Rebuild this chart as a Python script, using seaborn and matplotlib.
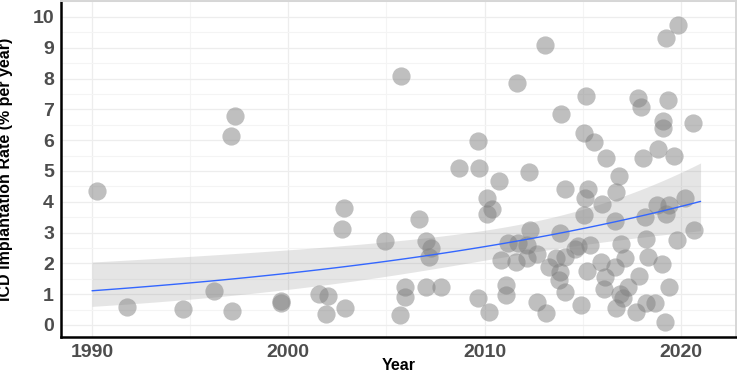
import matplotlib
matplotlib.use("Agg")
import matplotlib.pyplot as plt
import numpy as np
import pandas as pd
import seaborn as sns
from matplotlib.ticker import MultipleLocator

# study year (jittered as plotted) and ICD implantation rate (% per year)
years = [
    1990.24, 1991.77, 1994.65, 1996.22, 1997.06, 1997.30, 1997.14, 1999.65, 1999.65,
    2001.58, 2002.04, 2001.94, 2002.91, 2002.71, 2002.84, 2004.91, 2005.75, 2005.70,
    2005.92, 2005.92, 2006.68, 2006.99, 2007.26, 2007.18, 2006.99, 2007.79, 2008.69,
    2009.70, 2009.64, 2009.65, 2010.13, 2010.35, 2010.13, 2010.23, 2010.74, 2011.67,
    2012.25, 2013.09, 2013.89, 2011.17, 2011.68, 2012.14, 2010.85, 2011.58, 2012.16,
    2012.69, 2012.33, 2011.10, 2011.07, 2012.69, 2013.15, 2013.26, 2013.79, 2013.82,
    2013.65, 2014.08, 2014.08, 2013.82, 2014.08, 2014.59, 2014.75, 2015.35, 2015.19,
    2014.90, 2015.04, 2015.09, 2015.26, 2015.04, 2015.18, 2015.58, 2016.19, 2015.97,
    2015.94, 2016.14, 2016.06, 2016.62, 2016.62, 2016.67, 2016.84, 2016.96, 2017.13,
    2017.30, 2016.71, 2017.05, 2016.90, 2017.73, 2017.86, 2018.24, 2018.32, 2018.16,
    2018.07, 2017.82, 2017.96, 2018.20, 2018.67, 2018.76, 2018.81, 2019.04, 2019.06,
    2019.09, 2019.26, 2019.34, 2019.26, 2019.38, 2019.18, 2019.38, 2019.65, 2019.82,
    2019.83, 2020.23, 2020.59, 2020.64,
]
rates = [
    4.34, 0.59, 0.51, 1.10, 6.14, 6.77, 0.46, 0.78, 0.70,
    1.02, 0.95, 0.36, 0.55, 3.10, 3.81, 2.73, 8.09, 0.31,
    1.22, 0.92, 3.45, 2.73, 2.51, 2.19, 1.22, 1.22, 5.10,
    5.10, 5.96, 0.88, 4.13, 3.77, 3.59, 0.41, 4.66, 7.85,
    4.95, 9.08, 6.85, 2.65, 2.65, 2.59, 2.10, 2.05, 2.16,
    2.29, 3.07, 1.29, 0.97, 0.74, 0.40, 1.87, 1.45, 1.72,
    2.18, 2.21, 1.08, 3.00, 4.42, 2.48, 2.55, 2.61, 1.75,
    0.65, 3.56, 4.12, 4.42, 6.22, 7.43, 5.93, 5.42, 3.93,
    2.05, 1.56, 1.16, 1.89, 3.37, 4.31, 4.85, 2.64, 2.18,
    1.22, 0.54, 0.86, 1.02, 0.43, 1.58, 2.80, 2.21, 3.52,
    5.42, 7.37, 7.08, 0.72, 0.70, 3.91, 5.71, 1.99, 6.63,
    6.38, 9.32, 7.31, 3.61, 3.91, 0.09, 1.24, 5.50, 2.75,
    9.75, 4.13, 6.54, 3.09,
]

# log-linear (GLM) trend as shown: log(rate) = b0 + b1 * (year - 2005)
trend_coef = [0.726, 0.04144]
trend_cov = [[0.01855, -0.001338],
             [-0.001338, 0.0001694]]

df = pd.DataFrame({"Year": years, "Rate": rates})
df["StudyYear"] = df["Year"].round()

grid = np.linspace(df["StudyYear"].min(), df["StudyYear"].max(), 80)
G = np.column_stack([np.ones_like(grid), grid - 2005])
eta = G @ np.array(trend_coef)
se = np.sqrt(np.einsum("ij,jk,ik->i", G, np.array(trend_cov), G))
fit = pd.DataFrame({"Year": grid, "Rate": np.exp(eta),
                    "lo": np.exp(eta - 1.96 * se), "hi": np.exp(eta + 1.96 * se)})

sns.set_theme(style="white")
plt.rcParams["font.family"] = ["Liberation Sans", "DejaVu Sans"]

fig = plt.figure(figsize=(7.37, 3.74), dpi=100)
ax = fig.add_axes([0.0828, 0.099, 0.9152, 0.897])

ax.fill_between(fit["Year"], fit["lo"], fit["hi"], color="#999999", alpha=0.25,
                linewidth=0, zorder=2)
sns.scatterplot(data=df, x="Year", y="Rate", ax=ax, color="#808080", alpha=0.5,
                s=172, linewidth=0, zorder=3)
sns.lineplot(data=fit, x="Year", y="Rate", ax=ax, color="#3366FF", linewidth=1.0,
             zorder=4)

ax.set_xlim(1988.42, 2022.78)
ax.set_ylim(-0.39, 10.5)
ax.xaxis.set_major_locator(MultipleLocator(10))
ax.xaxis.set_minor_locator(MultipleLocator(5))
ax.yaxis.set_major_locator(MultipleLocator(1))
ax.yaxis.set_minor_locator(MultipleLocator(0.5))
ax.grid(which="major", color="#EDEDED", linewidth=0.9, zorder=0)
ax.grid(which="minor", color="#F4F4F4", linewidth=0.8, zorder=0)
ax.set_axisbelow(True)

for side in ["left", "bottom"]:
    ax.spines[side].set_color("black")
    ax.spines[side].set_linewidth(1.8)
for side in ["top", "right"]:
    ax.spines[side].set_color("#D6D6D6")
    ax.spines[side].set_linewidth(1.4)

ax.tick_params(which="major", length=2.5, width=0.8, color="#333333", pad=2.5,
               labelsize=14, labelcolor="#4D4D4D")
ax.tick_params(which="minor", length=0)
for lab in ax.get_xticklabels() + ax.get_yticklabels():
    lab.set_fontweight("bold")

ax.set_xlabel("Year", fontsize=11.5, fontweight="bold", color="black")
ax.set_ylabel("ICD Implantation Rate (% per year)", fontsize=11.5,
              fontweight="bold", color="black")
ax.xaxis.set_label_coords(0.5, -0.062)
ax.yaxis.set_label_coords(-0.0705, 0.5)

fig.savefig("out.png", dpi=100)
